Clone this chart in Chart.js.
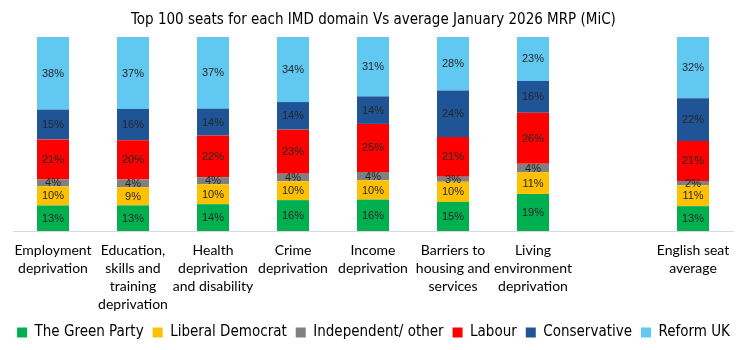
<!DOCTYPE html>
<html>
<head>
<meta charset="utf-8">
<script src="https://cdn.jsdelivr.net/npm/chart.js@4/dist/chart.umd.min.js"></script>
<style>
  html, body { margin: 0; padding: 0; background: #ffffff; }
  #wrap { width: 747px; height: 350px; position: relative; }
</style>
</head>
<body>
<div id="wrap"><canvas id="c"></canvas></div>
<script>
const categories = [
  ['Employment', 'deprivation'],
  ['Education,', 'skills and', 'training', 'deprivation'],
  ['Health', 'deprivation', 'and disability'],
  ['Crime', 'deprivation'],
  ['Income', 'deprivation'],
  ['Barriers to', 'housing and', 'services'],
  ['Living', 'environment', 'deprivation'],
  '',
  ['English seat', 'average']
];

const seriesNames = ['The Green Party', 'Liberal Democrat', 'Independent/ other', 'Labour', 'Conservative', 'Reform UK'];

const greenParty   = [13.2, 13.2, 13.8, 15.9, 16.2, 15.0, 19.1, null, 12.8];
const liberalDem   = [ 9.9,  9.4, 10.3,  9.7,  9.9, 10.4, 11.1, null, 10.8];
const independent  = [ 3.6,  3.9,  3.6,  3.9,  4.3,  2.6,  4.4, null,  2.2];
const labour       = [20.7, 20.3, 21.5, 22.7, 24.8, 20.5, 26.3, null, 20.6];
const conservative = [15.4, 16.1, 13.8, 14.2, 14.2, 23.9, 16.4, null, 22.0];
const reformUK     = [37.6, 37.1, 36.9, 33.5, 30.6, 27.6, 22.6, null, 31.6];

const seriesValues = [greenParty, liberalDem, independent, labour, conservative, reformUK];
const seriesColors = ['#00b050', '#ffc000', '#808080', '#ff0000', '#1f5596', '#61c8f2'];

const totals = categories.map((_, i) => seriesValues.reduce((s, arr) => s + (arr[i] || 0), 0));

const datasets = seriesValues.map((arr, k) => ({
  label: seriesNames[k],
  rawValues: arr,
  data: arr.map((v, i) => v == null ? null : v / totals[i] * 100),
  backgroundColor: seriesColors[k],
  borderWidth: 0,
  barPercentage: 0.4,
  categoryPercentage: 1.0
}));

const labelPlugin = {
  id: 'segLabels',
  afterDatasetsDraw(chart) {
    const ctx = chart.ctx;
    ctx.save();
    ctx.font = '11px "Liberation Sans", Arial, sans-serif';
    ctx.fillStyle = '#262626';
    ctx.textAlign = 'center';
    ctx.textBaseline = 'middle';
    chart.data.datasets.forEach((ds, di) => {
      const meta = chart.getDatasetMeta(di);
      meta.data.forEach((el, i) => {
        const raw = ds.rawValues[i];
        if (raw == null) return;
        const p = el.getProps(['x', 'y', 'base'], true);
        ctx.fillText(Math.round(raw) + '%', p.x, (p.y + p.base) / 2 + 0.5);
      });
    });
    ctx.restore();
  }
};

const narrow = '"DejaVu Sans Condensed", "Liberation Sans Narrow", sans-serif';

const spacerAxis = (pos, w) => ({
  position: pos,
  display: true,
  min: 0,
  max: 100,
  stacked: true,
  grid: { display: false, drawTicks: false },
  border: { display: false },
  ticks: { display: false },
  afterFit(scale) { scale.width = w; }
});

new Chart(document.getElementById('c'), {
  type: 'bar',
  data: { labels: categories, datasets },
  options: {
    responsive: true,
    maintainAspectRatio: false,
    animation: false,
    layout: { padding: { left: 0, right: 0, top: 0, bottom: 0 } },
    plugins: {
      title: {
        display: true,
        text: 'Top 100 seats for each IMD domain Vs average January 2026 MRP (MiC)',
        color: '#000000',
        font: { family: narrow, size: 15, weight: 'normal' },
        padding: { top: 11, bottom: 8 }
      },
      legend: {
        display: true,
        position: 'bottom',
        labels: {
          boxWidth: 10,
          boxHeight: 10,
          padding: 9,
          color: '#000000',
          font: { family: narrow, size: 15 }
        }
      },
      tooltip: { enabled: false }
    },
    scales: {
      x: {
        stacked: true,
        grid: { display: false, drawTicks: false },
        border: { display: true, color: '#d9d9d9', width: 1 },
        ticks: {
          color: '#000000',
          autoSkip: false,
          maxRotation: 0,
          minRotation: 0,
          padding: 10,
          font: { family: 'Lato, sans-serif', size: 14, lineHeight: 1.3 }
        },
        afterFit(scale) { scale.height = 85; }
      },
      y: spacerAxis('left', 13),
      yRight: spacerAxis('right', 14)
    }
  },
  plugins: [labelPlugin]
});
</script>
</body>
</html>
